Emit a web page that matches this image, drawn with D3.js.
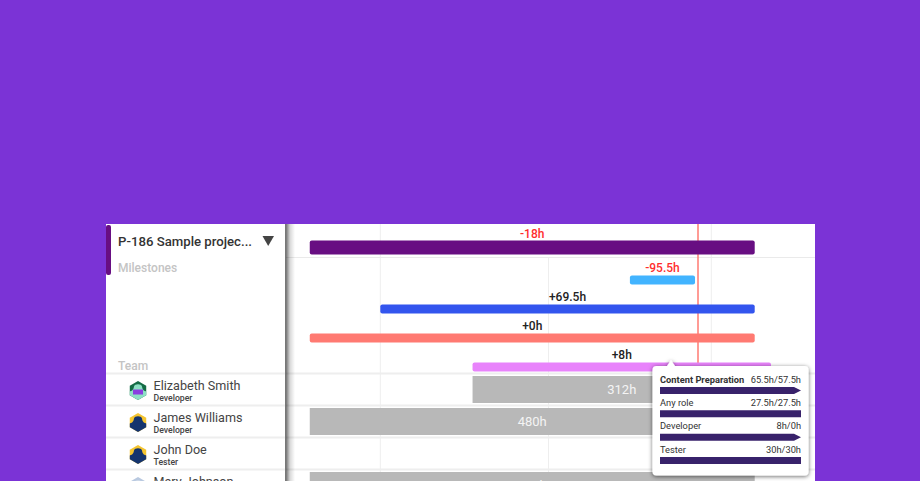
<!DOCTYPE html>
<html>
<head>
  <style>
    html, body { margin: 0; padding: 0; background: #7b33d6; }
    svg { display: block; }
    text { font-family: Roboto, sans-serif; }
  </style>
</head>
<body>
  <svg id="chart" width="920" height="481"></svg>
  <script src="https://d3js.org/d3.v7.min.js"></script>
  <script>
    // days counted from the first month line
    const monthLines = [0, 31, 61]

    const projectName = 'P-186 Sample projec...'
    const projectBar = { start: -13, end: 69, label: '-18h', over: true }

    const phaseStarts = [46, 0, -13, 17]
    const phaseEnds = [58, 69, 69, 72]
    const phaseLabels = ['-95.5h', '+69.5h', '+0h', '+8h']
    const phaseColors = ['#42b4ff', '#3355ee', '#ff7a72', '#e883fb']

    const people = ['Elizabeth Smith', 'James Williams', 'John Doe', 'Mary Johnson']
    const roles = ['Developer', 'Developer', 'Tester', '']
    const avatarColors = ['#146b45', '#f4c430', '#f4c430', '#b9c9e0']
    const loadStarts = [17, -13, null, -13]
    const loadEnds = [72, 69, null, 69]
    const loadLabels = ['312h', '480h', '', '480h']

    const tipNames = ['Content Preparation', 'Any role', 'Developer', 'Tester']
    const tipValues = ['65.5h/57.5h', '27.5h/27.5h', '8h/0h', '30h/30h']
    const tipOver = [true, false, true, false]

    const svg = d3.select('#chart')
    const x = d3.scaleLinear().domain([0, 61]).range([380.3, 711.3])
    const phaseY = d3.scaleLinear().domain([0, 3]).range([280, 367])
    const rowY = d3.scaleLinear().domain([0, 3]).range([389.5, 485.5])

    const defs = svg.append('defs')
    defs.append('clipPath').attr('id', 'page')
      .append('rect').attr('x', 106).attr('y', 224).attr('width', 709).attr('height', 257)
    const blur = defs.append('filter').attr('id', 'shadow')
      .attr('x', '-20%').attr('y', '-20%').attr('width', '140%').attr('height', '140%')
    blur.append('feDropShadow').attr('dx', 0).attr('dy', 1).attr('stdDeviation', 2)
      .attr('flood-color', '#000').attr('flood-opacity', 0.6)
    const fade = defs.append('linearGradient').attr('id', 'panelfade')
    fade.append('stop').attr('offset', 0).attr('stop-color', '#000').attr('stop-opacity', 0.55)
    fade.append('stop').attr('offset', 0.45).attr('stop-color', '#000').attr('stop-opacity', 0.15)
    fade.append('stop').attr('offset', 1).attr('stop-color', '#000').attr('stop-opacity', 0)

    const page = svg.append('g').attr('clip-path', 'url(#page)')
    page.append('rect').attr('x', 106).attr('y', 224).attr('width', 709).attr('height', 257).attr('fill', '#fff')

    // grid
    page.selectAll('.month').data(monthLines).enter().append('line')
      .attr('x1', d => x(d)).attr('x2', d => x(d))
      .attr('y1', (d, i) => i == 1 ? 258 : 224).attr('y2', 481)
      .attr('stroke', '#eeeeee').attr('stroke-width', 1)
    page.append('line').attr('x1', 286).attr('x2', 815).attr('y1', 257.5).attr('y2', 257.5)
      .attr('stroke', '#eaeaea').attr('stroke-width', 1)
    page.selectAll('.rowline').data(people).enter().append('line')
      .attr('x1', 106).attr('x2', 815)
      .attr('y1', (d, i) => rowY(i) - 16).attr('y2', (d, i) => rowY(i) - 16)
      .attr('stroke', '#eeeeee').attr('stroke-width', 2)

    // load bars
    const loadRows = people.map((d, i) => i).filter(i => loadStarts[i] !== null)
    page.selectAll('.load').data(loadRows).enter().append('rect')
      .attr('x', i => x(loadStarts[i])).attr('width', i => x(loadEnds[i]) - x(loadStarts[i]))
      .attr('y', i => rowY(i) - 13.5).attr('height', 27).attr('fill', '#b8b8b8')
    page.selectAll('.loadlabel').data(loadRows).enter().append('text')
      .attr('x', i => (x(loadStarts[i]) + x(loadEnds[i])) / 2).attr('y', i => rowY(i) + 4.5)
      .attr('text-anchor', 'middle').attr('font-size', 13).attr('fill', '#f4f4f4')
      .text(i => loadLabels[i])

    // now line
    page.append('line').attr('x1', 698).attr('x2', 698).attr('y1', 224).attr('y2', 365)
      .attr('stroke', '#ff7a72').attr('stroke-width', 1.5)

    // project bar
    page.append('rect').attr('x', x(projectBar.start)).attr('width', x(projectBar.end) - x(projectBar.start))
      .attr('y', 240.5).attr('height', 14).attr('rx', 2).attr('fill', '#680e82')
    page.append('text').attr('x', (x(projectBar.start) + x(projectBar.end)) / 2).attr('y', 237.5)
      .attr('text-anchor', 'middle').attr('font-size', 12).attr('font-weight', 500).attr('fill', '#ff2d2d')
      .text(projectBar.label)

    // phase bars
    page.selectAll('.phase').data(phaseLabels).enter().append('rect')
      .attr('x', (d, i) => x(phaseStarts[i])).attr('width', (d, i) => x(phaseEnds[i]) - x(phaseStarts[i]))
      .attr('y', (d, i) => phaseY(i) - 4.5).attr('height', 9).attr('rx', 2)
      .attr('fill', (d, i) => phaseColors[i])
    page.selectAll('.phaselabel').data(phaseLabels).enter().append('text')
      .attr('x', (d, i) => (x(phaseStarts[i]) + x(phaseEnds[i])) / 2).attr('y', (d, i) => phaseY(i) - 8)
      .attr('text-anchor', 'middle').attr('font-size', 12).attr('font-weight', 500)
      .attr('fill', d => d[0] == '-' ? '#ff2d2d' : '#222')
      .text(d => d)

    // left panel
    page.append('rect').attr('x', 286).attr('y', 224).attr('width', 9).attr('height', 257)
      .attr('fill', 'url(#panelfade)')
    page.append('rect').attr('x', 106).attr('y', 224).attr('width', 180).attr('height', 257).attr('fill', '#fff')
    page.append('line').attr('x1', 285.5).attr('x2', 285.5).attr('y1', 224).attr('y2', 481)
      .attr('stroke', '#777').attr('stroke-width', 1)
    page.append('rect').attr('x', 106).attr('y', 225).attr('width', 5).attr('height', 50).attr('rx', 2).attr('fill', '#680e82')
    page.append('text').attr('x', 118).attr('y', 246).attr('font-size', 13.2).attr('font-weight', 500)
      .attr('fill', '#333').text(projectName)
    page.append('path').attr('d', 'M262.5,236 L274,236 L268.2,246 Z').attr('fill', '#444')
    page.append('text').attr('x', 118).attr('y', 272).attr('font-size', 12).attr('font-weight', 500)
      .attr('fill', '#c4c4c4').text('Milestones')
    page.append('text').attr('x', 118).attr('y', 370).attr('font-size', 12).attr('font-weight', 500)
      .attr('fill', '#c4c4c4').text('Team')

    page.selectAll('.panelline').data(people).enter().append('line')
      .attr('x1', 106).attr('x2', 285)
      .attr('y1', (d, i) => rowY(i) - 16).attr('y2', (d, i) => rowY(i) - 16)
      .attr('stroke', '#eeeeee').attr('stroke-width', 2)

    const hex = d3.line()(d3.range(6).map(i => {
      const a = Math.PI / 3 * i - Math.PI / 2
      return [9.5 * Math.cos(a), 9.5 * Math.sin(a)]
    })) + 'Z'
    const rows = page.selectAll('.person').data(people).enter().append('g')
      .attr('transform', (d, i) => `translate(138,${rowY(i) + 1})`)
    rows.append('path').attr('d', hex).attr('fill', (d, i) => avatarColors[i])
    rows.append('path').attr('d', 'M-8.2,4.7 L-8.2,1 C-5,0 -4.5,-1.5 -4,-4 C-3.5,-7 3.5,-7 4,-4 C4.5,-1.5 5,0 8.2,1 L8.2,4.7 L0,9.5 Z')
      .attr('fill', (d, i) => i == 0 ? '#8de0c4' : i == 3 ? '#d8e0ec' : '#14346e')
    rows.filter((d, i) => i == 0).append('rect').attr('x', -5).attr('y', -1).attr('width', 10).attr('height', 5).attr('fill', '#8a3fe0')
    rows.append('text').attr('x', 15.5).attr('y', -0.5).attr('font-size', 12.6).attr('fill', '#444').text(d => d)
    rows.append('text').attr('x', 15.5).attr('y', 10).attr('font-size', 8.7).attr('font-weight', 500).attr('fill', '#444')
      .text((d, i) => roles[i])

    // tooltip
    const tip = page.append('g')
    tip.append('path').attr('d', 'M652.5,370 Q652.5,366 656.5,366 L667,366 L671,360 L675,366 L804.5,366 Q808.5,366 808.5,370 L808.5,471.5 Q808.5,475.5 804.5,475.5 L656.5,475.5 Q652.5,475.5 652.5,471.5 Z')
      .attr('fill', '#fff').attr('filter', 'url(#shadow)')
    const tipRow = d3.scaleLinear().domain([0, 3]).range([379, 449])
    tip.selectAll('.tipname').data(tipNames).enter().append('text')
      .attr('x', 660).attr('y', (d, i) => tipRow(i) + 3.5).attr('font-size', 9.3)
      .attr('font-weight', (d, i) => i == 0 ? 700 : 400).attr('fill', '#333').text(d => d)
    tip.selectAll('.tipvalue').data(tipValues).enter().append('text')
      .attr('x', 801).attr('y', (d, i) => tipRow(i) + 3.5).attr('text-anchor', 'end').attr('font-size', 9.3)
      .attr('fill', '#333').text(d => d)
    tip.selectAll('.tipbar').data(tipNames).enter().append('path')
      .attr('d', (d, i) => {
        const t = tipRow(i) + 8
        return tipOver[i]
          ? `M660,${t} L794,${t} L801,${t + 3.5} L794,${t + 7} L660,${t + 7} Z`
          : `M660,${t} L801,${t} L801,${t + 7} L660,${t + 7} Z`
      })
      .attr('fill', '#38226b')
  </script>
</body>
</html>
